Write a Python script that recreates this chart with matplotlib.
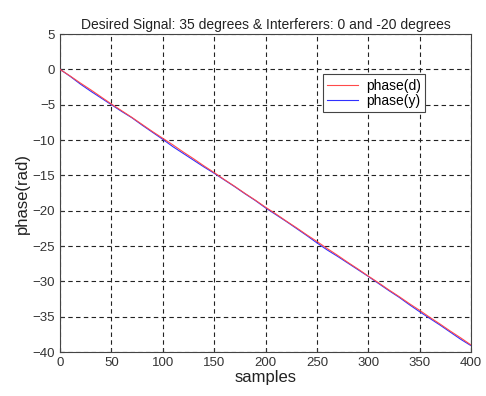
import matplotlib
matplotlib.use("Agg")
import matplotlib.pyplot as plt

# samples read at every 10 steps
samples = list(range(0, 401, 10))
phase_d = [0.0, -0.95, -1.95, -2.9, -3.9, -4.9, -5.85, -6.8, -7.8, -8.8,
           -9.75, -10.7, -11.7, -12.65, -13.65, -14.6, -15.6, -16.55, -17.55, -18.5,
           -19.5, -20.45, -21.45, -22.4, -23.4, -24.35, -25.35, -26.3, -27.3, -28.25,
           -29.25, -30.2, -31.2, -32.15, -33.15, -34.1, -35.1, -36.05, -37.05, -38.0,
           -39.0]
phase_y = [0.0, -1.0, -2.1, -3.1, -4.05, -5.0, -5.95, -6.85, -7.9, -8.9,
           -9.9, -10.95, -11.9, -12.85, -13.8, -14.7, -15.65, -16.6, -17.6, -18.55,
           -19.6, -20.55, -21.5, -22.5, -23.5, -24.55, -25.55, -26.45, -27.4, -28.35,
           -29.3, -30.3, -31.3, -32.25, -33.3, -34.3, -35.25, -36.2, -37.2, -38.2,
           -39.1]

x_ticks = list(range(0, 401, 50))
y_ticks = list(range(-40, 6, 5))

plt.rcParams['font.family'] = ['Liberation Sans', 'DejaVu Sans']

fig = plt.figure(figsize=(4.86, 3.96), dpi=100)
ax = fig.add_axes([0.1235, 0.111, 0.8457, 0.803])

ax.plot(samples, phase_y, color='#3030ff', lw=0.8, label='phase(y)', zorder=3)
ax.plot(samples, phase_d, color='#ff4a4a', lw=0.8, label='phase(d)', zorder=4)

ax.set_xlim(0, 400)
ax.set_ylim(-40, 5)
ax.set_xticks(x_ticks)
ax.set_yticks(y_ticks)
ax.tick_params(direction='in', labelsize=9.5, length=3, colors='#333333')
ax.grid(True, color='#222222', linestyle=(0, (4, 3)), linewidth=0.8)
for s in ax.spines.values():
    s.set_color('#444444')

ax.set_title('Desired Signal: 35 degrees & Interferers: 0 and -20 degrees',
             fontsize=10, color='#222222', pad=4)
ax.set_xlabel('samples', fontsize=12, color='#222222', labelpad=1)
ax.set_ylabel('phase(rad)', fontsize=12, color='#222222', labelpad=2)

handles, labels = ax.get_legend_handles_labels()
leg = ax.legend(handles[::-1], labels[::-1], loc='upper right',
                bbox_to_anchor=(0.905, 0.895), fontsize=10,
                frameon=True, fancybox=False, framealpha=1, handlelength=2.2,
                borderpad=0.3, labelspacing=0.1, handletextpad=0.6)
leg.get_frame().set_edgecolor('#444444')
leg.get_frame().set_linewidth(0.8)

fig.savefig('out.png', dpi=100)
